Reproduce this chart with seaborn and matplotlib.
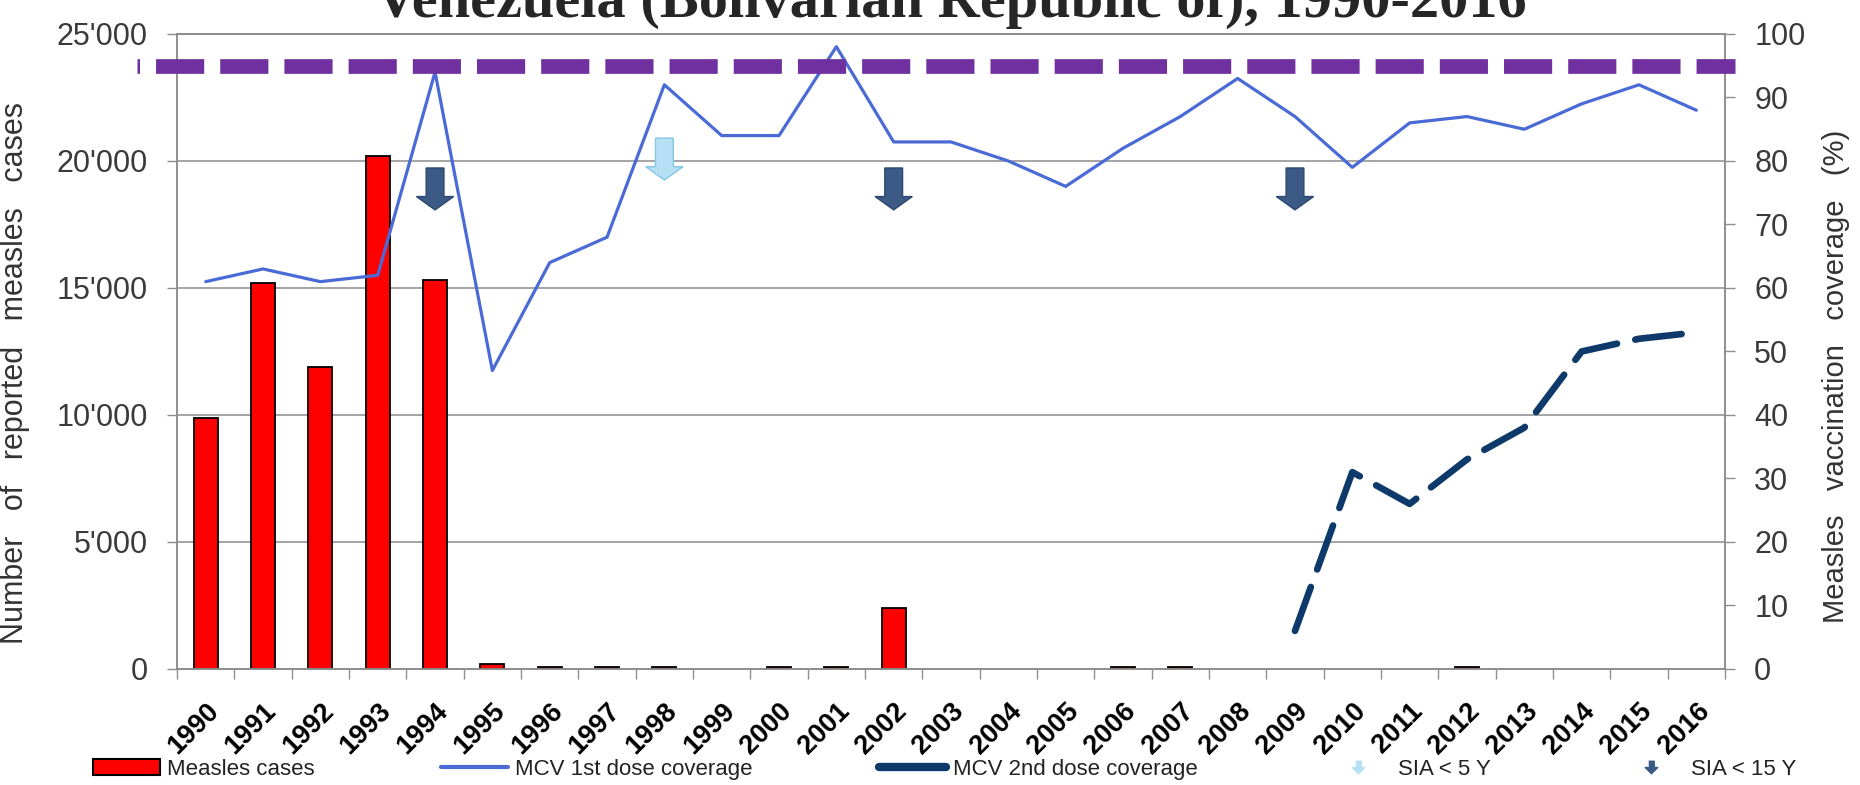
import numpy as np
import pandas as pd
import matplotlib
matplotlib.use("Agg")
import matplotlib.pyplot as plt
import matplotlib.transforms as mtrans
import seaborn as sns
from matplotlib.patches import Patch
from matplotlib.lines import Line2D
from matplotlib.ticker import FuncFormatter

# data
years = ["1990", "1991", "1992", "1993", "1994", "1995", "1996", "1997", "1998",
         "1999", "2000", "2001", "2002", "2003", "2004", "2005", "2006", "2007",
         "2008", "2009", "2010", "2011", "2012", "2013", "2014", "2015", "2016"]
cases = [9900, 15200, 11900, 20200, 15300, 180, 90, 90, 90, 0, 90, 90, 2390,
         0, 0, 0, 90, 90, 0, 0, 0, 0, 60, 0, 0, 0, 0]
mcv1 = [61, 63, 61, 62, 94, 47, 64, 68, 92, 84, 84, 98, 83, 83, 80, 76, 82, 87,
        93, 87, 79, 86, 87, 85, 89, 92, 88]
mcv2 = [np.nan] * 19 + [6, 31, 26, 33, 38, 50, 52, 53]
target = 95
sia_years = ["1994", "1998", "2002", "2009"]
sia_kind = ["<15", "<5", "<15", "<15"]

RED = "#ff0000"
BLUE1 = "#4a6ad6"
NAVY = "#0d3a6b"
PURPLE = "#7030a0"
ARROW_DARK = "#3c5a86"
ARROW_LIGHT = "#b6e1f5"
GRID = "#8c8c8c"

sns.set_style("white")
plt.rcParams["font.family"] = ["Liberation Sans", "DejaVu Sans"]

df = pd.DataFrame({"year": years, "cases": cases, "mcv1": mcv1, "mcv2": mcv2})
df["pos"] = np.arange(len(df))

fig, ax = plt.subplots(figsize=(18.6, 7.85), dpi=100)
fig.subplots_adjust(left=0.0952, right=0.9274, bottom=0.1478, top=0.9567)

sns.barplot(data=df, x="year", y="cases", color=RED, saturation=1, width=0.42,
            edgecolor="black", linewidth=1.3, ax=ax, zorder=2)
for p in ax.patches:
    if p.get_height() == 0:
        p.set_linewidth(0)

ax.set_axisbelow(True)
ax.yaxis.grid(True, color=GRID, lw=1.1)
ax.set_ylim(0, 25000)
ax.set_yticks(np.arange(0, 25001, 5000))
ax.yaxis.set_major_formatter(FuncFormatter(lambda v, _: f"{int(v):,}".replace(",", "'")))
ax.set_xlim(-0.5, len(years) - 0.5)

ax2 = ax.twinx()
sns.lineplot(data=df, x="pos", y="mcv1", color=BLUE1, lw=2.3, ax=ax2)
sns.lineplot(data=df, x="pos", y="mcv2", color=NAVY, lw=4.8, ax=ax2)
l2 = ax2.lines[-1]
l2.set_dashes((7, 2.8))
l2.set_dash_capstyle("round")
ax2.set_ylim(0, 100)
ax2.set_yticks(np.arange(0, 101, 10))
ax2.axhline(target, xmin=-0.026, xmax=1.0065, color=PURPLE, lw=10.6,
            ls=(3.1, (3.27, 1.09)), clip_on=False, zorder=5)

# SIA arrows
for yr, kind in zip(sia_years, sia_kind):
    xi = years.index(yr)
    top = 83.6 if kind == "<5" else 78.9
    fc, ec = (ARROW_LIGHT, "#86c6e6") if kind == "<5" else (ARROW_DARK, "#2c4870")
    ax2.arrow(xi, top, 0, -6.6, width=0.31, head_width=0.65, head_length=2.1,
              length_includes_head=True, fc=fc, ec=ec, lw=1, zorder=4)

# x axis: labels at centres, ticks between categories
ax.set_xticks(range(len(years)))
ax.set_xticklabels(years, rotation=45, ha="right", va="top",
                   rotation_mode="anchor", fontweight="bold", fontsize=19.5, color="black")
off = mtrans.ScaledTranslation(6 / 100, 0, fig.dpi_scale_trans)
for t in ax.get_xticklabels():
    t.set_transform(t.get_transform() + off)
ax.set_xticks(np.arange(-0.5, len(years), 1), minor=True)
ax.tick_params(axis="x", which="major", length=0, pad=21)
ax.tick_params(axis="x", which="minor", length=7, width=1, color=GRID, bottom=True)
ax.tick_params(axis="y", length=7, width=1, color=GRID, labelsize=22,
               labelcolor="#3a3a3a", pad=14, left=True)
ax2.tick_params(axis="y", length=7, width=1, color=GRID, labelsize=22,
                labelcolor="#3a3a3a", pad=14, right=True)

for a in (ax, ax2):
    for s in a.spines.values():
        s.set_color(GRID)
        s.set_linewidth(1.1)
    a.set_xlabel("")

ax.set_ylabel("Number   of   reported   measles   cases", fontsize=22, color="#333333")
ax.yaxis.set_label_coords(-0.095, 0.466)
ax2.set_ylabel("Measles   vaccination   coverage   (%)", fontsize=21, color="#333333",
               rotation=90)
ax2.yaxis.set_label_coords(1.063, 0.461)

fig.text(0.5113, 1 - 17 / 785, "Venezuela (Bolivarian Republic of), 1990-2016",
         ha="center", va="baseline", fontsize=42, fontweight="bold",
         family="Liberation Serif")

arrow_marker = [(-0.22, 0.5), (0.22, 0.5), (0.22, 0.0), (0.5, 0.0), (0, -0.5),
                (-0.5, 0.0), (-0.22, 0.0)]
handles = [
    Patch(facecolor=RED, edgecolor="black", linewidth=1.5),
    Line2D([], [], color=BLUE1, lw=3),
    Line2D([], [], color=NAVY, lw=6, solid_capstyle="round"),
    Line2D([], [], ls="none", marker=arrow_marker, markersize=9,
           mfc=ARROW_LIGHT, mec=ARROW_LIGHT),
    Line2D([], [], ls="none", marker=arrow_marker, markersize=9,
           mfc=ARROW_DARK, mec=ARROW_DARK),
]
labels = ["Measles cases", "MCV 1st dose coverage", "MCV 2nd dose coverage",
          "SIA < 5 Y", "SIA < 15 Y"]
fig.legend(handles, labels, loc="lower left", bbox_to_anchor=(0.049, 0.004, 0.918, 0.03),
           ncol=5, mode="expand", frameon=False, fontsize=16, handlelength=3.0,
           handletextpad=0.3, borderaxespad=0, borderpad=0.1, labelcolor="#222222")

fig.savefig("out.png", dpi=100)
